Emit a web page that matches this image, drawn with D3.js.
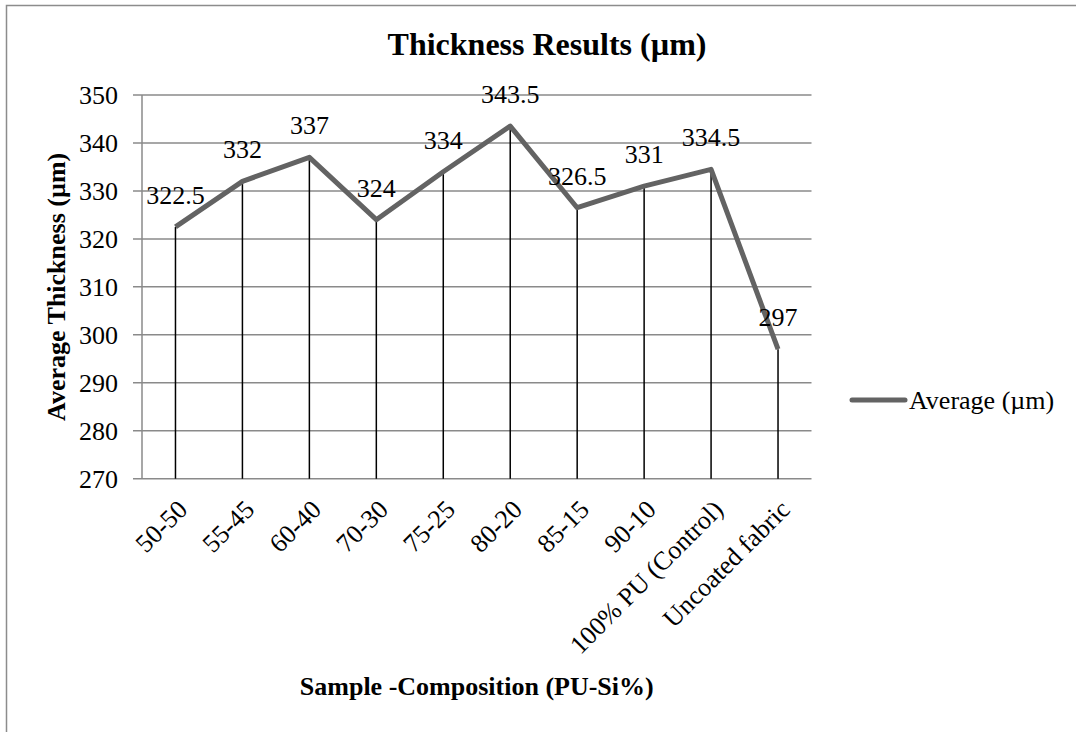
<!DOCTYPE html>
<html><head><meta charset="utf-8">
<script src="https://cdn.jsdelivr.net/npm/d3@7"></script>
<style>body{margin:0;background:#fff}svg{display:block}text{font-family:"Liberation Serif","Times New Roman",serif;fill:#000}</style>
</head><body>
<svg id="c" width="1076" height="732"></svg>
<script>
const categories = ["50-50","55-45","60-40","70-30","75-25","80-20","85-15","90-10","100% PU (Control)","Uncoated fabric"];
const averageValues = [322.5,332,337,324,334,343.5,326.5,331,334.5,297];
const yTicks = [270,280,290,300,310,320,330,340,350];
const seriesName = "Average (µm)";
const titleText = "Thickness Results (µm)";
const xTitle = "Sample -Composition (PU-Si%)";
const yTitle = "Average Thickness (µm)";

const svg = d3.select("#c");
const L = 142, R = 811.5, T = 95, B = 478.7;
const x = d3.scaleBand().domain(categories).range([L, R]);
const y = d3.scaleLinear().domain([270, 350]).range([B, T]);
const grid = "#8a8a8a";

// outer border
svg.append("rect").attr("x",6.5).attr("y",5.5).attr("width",1200).attr("height",1000)
  .attr("fill","none").attr("stroke","#8c8c8c").attr("stroke-width",1.5);

// gridlines
svg.append("g").selectAll("line").data(yTicks).join("line")
  .attr("x1",L-9).attr("x2",R).attr("y1",d=>y(d)).attr("y2",d=>y(d))
  .attr("stroke",grid).attr("stroke-width",1.5);
// y axis line
svg.append("line").attr("x1",L).attr("x2",L).attr("y1",T).attr("y2",B)
  .attr("stroke",grid).attr("stroke-width",1.5);
// y tick labels
svg.append("g").selectAll("text").data(yTicks).join("text")
  .attr("x",L-24).attr("y",d=>y(d)).attr("dy","0.35em").attr("text-anchor","end")
  .style("font-size","26px").text(d=>d);

const cx = d => x(d) + x.bandwidth()/2;
// drop lines
svg.append("g").selectAll("line").data(categories).join("line")
  .attr("x1",cx).attr("x2",cx).attr("y1",(d,i)=>y(averageValues[i])).attr("y2",B)
  .attr("stroke","#000").attr("stroke-width",1.5);

// series line
const line = d3.line().x((d,i)=>cx(categories[i])).y(d=>y(d));
svg.append("path").datum(averageValues).attr("d",line)
  .attr("fill","none").attr("stroke","#636363").attr("stroke-width",5).attr("stroke-linejoin","round");

// data labels
svg.append("g").selectAll("text").data(averageValues).join("text")
  .attr("x",(d,i)=>cx(categories[i])).attr("y",d=>y(d)-32).attr("dy","0.35em")
  .attr("text-anchor","middle").style("font-size","26px").text(d=>d);

// x labels
svg.append("g").selectAll("text").data(categories).join("text")
  .attr("transform",d=>`translate(${cx(d)+7},${B+26}) rotate(-45)`)
  .attr("dy","0.35em").attr("text-anchor","end").style("font-size","26px").text(d=>d);

// titles
svg.append("text").attr("x",547).attr("y",55).attr("text-anchor","middle")
  .style("font-size","32px").style("font-weight","bold").text(titleText);
svg.append("text").attr("x",(L+R)/2).attr("y",695).attr("text-anchor","middle")
  .style("font-size","26px").style("font-weight","bold").text(xTitle);
svg.append("text").attr("transform",`translate(65,${(T+B)/2}) rotate(-90)`).attr("text-anchor","middle")
  .style("font-size","26px").style("font-weight","bold").text(yTitle);

// legend
svg.append("line").attr("x1",852).attr("x2",905).attr("y1",400).attr("y2",400)
  .attr("stroke","#636363").attr("stroke-width",5).attr("stroke-linecap","round");
svg.append("text").attr("x",909).attr("y",400).attr("dy","0.35em").style("font-size","26px").text(seriesName);
</script>
</body></html>
